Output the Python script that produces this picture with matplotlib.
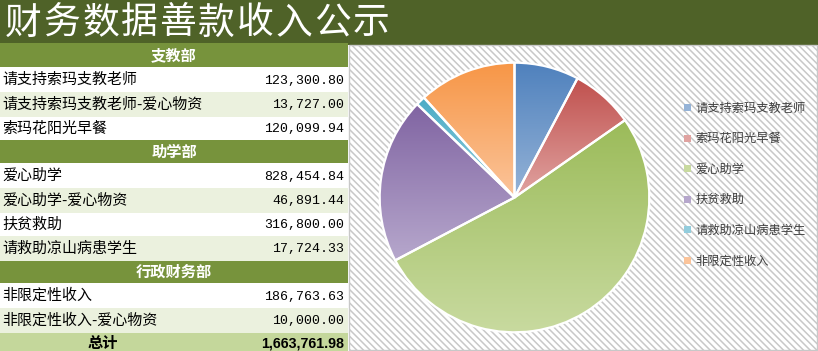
import numpy as np
import matplotlib
matplotlib.use("Agg")
import matplotlib.pyplot as plt
from matplotlib.patches import Rectangle
from matplotlib.colors import to_rgb

plt.rcParams['font.family'] = ['Noto Sans CJK SC', 'DejaVu Sans']
plt.rcParams['hatch.color'] = '#dedede'
plt.rcParams['hatch.linewidth'] = 1.1

# =========================
# DATA
# =========================
title = "财务数据善款收入公示"

# table rows: (kind, label, value)
row_kinds = ["head", "row", "row", "row", "head", "row", "row", "row", "row",
             "head", "row", "row", "total"]
row_labels = ["支教部", "请支持索玛支教老师", "请支持索玛支教老师-爱心物资", "索玛花阳光早餐",
              "助学部", "爱心助学", "爱心助学-爱心物资", "扶贫救助", "请救助凉山病患学生",
              "行政财务部", "非限定性收入", "非限定性收入-爱心物资", "总计"]
row_values = [None, 123300.80, 13727.00, 120099.94,
              None, 828454.84, 46891.44, 316800.00, 17724.33,
              None, 186763.63, 10000.00, 1663761.98]

pie_labels = ["请支持索玛支教老师", "索玛花阳光早餐", "爱心助学", "扶贫救助",
              "请救助凉山病患学生", "非限定性收入"]
pie_values = [123300.80, 120099.94, 828454.84, 316800.00, 17724.33, 186763.63]
pie_top = ["#4f81bd", "#c0504d", "#9bbb59", "#8064a2", "#4bacc6", "#f79646"]
pie_bottom = ["#95b3d7", "#e0a3a1", "#c8da9f", "#b6a7cc", "#93cddd", "#fbc49a"]

# =========================
# LAYOUT (pixels)
# =========================
W, H = 818, 351
row_edges = [43, 67, 92, 117, 140, 163, 188, 213, 236, 261, 283, 308, 333, 351]
TABLE_W = 348

fig = plt.figure(figsize=(W / 100, H / 100), dpi=100)
bg = fig.add_axes([0, 0, 1, 1])
bg.set_xlim(0, W)
bg.set_ylim(H, 0)
bg.axis("off")

# title bar
bg.add_patch(Rectangle((0, 0), W, 45, facecolor="#4f6228", edgecolor="none"))
for k, ch in enumerate(title):
    bg.text(5 + k * 38.6, 23, ch, color="white", fontsize=26.5, va="center", ha="left")

# chart area with diagonal hatch
bg.add_patch(Rectangle((349, 45), 467.5, 305, facecolor="white",
                       edgecolor="#c8c8c8", linewidth=1, hatch="\\\\\\\\\\"))

# =========================
# TABLE
# =========================
light = True
for i, (kind, lab, val) in enumerate(zip(row_kinds, row_labels, row_values)):
    y0, y1 = row_edges[i], row_edges[i + 1]
    yc = (y0 + y1) / 2
    if kind == "head":
        bg.add_patch(Rectangle((0, y0), TABLE_W, y1 - y0, facecolor="#77933c", edgecolor="none"))
        bg.text(TABLE_W / 2, yc, lab, color="white", fontsize=11, fontweight="bold",
                ha="center", va="center")
        light = True
    elif kind == "total":
        bg.add_patch(Rectangle((0, y0), TABLE_W, 20, facecolor="#c4d79b", edgecolor="none"))
        bg.text(103, y0 + 10, lab, color="black", fontsize=11, fontweight="bold",
                ha="center", va="center")
        bg.text(344, y0 + 10, f"{val:,.2f}", color="black", fontsize=10.3, fontweight="bold",
                family="Liberation Sans", ha="right", va="center")
    else:
        light = not light
        fc = "#ebf1de" if light else "white"
        bg.add_patch(Rectangle((0, y0), TABLE_W, y1 - y0, facecolor=fc, edgecolor="none"))
        bg.text(2, yc, lab, color="black", fontsize=10.8, ha="left", va="center")
        bg.text(344, yc + 1, f"{val:,.2f}", color="black", fontsize=9.5,
                family="Liberation Mono", ha="right", va="center")

# =========================
# PIE
# =========================
cx, cy, r = 514.5, 197.5, 137.5
pax = fig.add_axes([(cx - r) / W, 1 - (cy + r) / H, 2 * r / W, 2 * r / H])
wedges, _ = pax.pie(pie_values, startangle=90, counterclock=False, radius=1,
                    colors=pie_top, wedgeprops=dict(edgecolor="white", linewidth=1.6))
for w, c1, c2 in zip(wedges, pie_top, pie_bottom):
    ext = w.get_path().get_extents()
    t = np.linspace(0, 1, 128)[:, None, None]
    grad = (1 - t) * np.array(to_rgb(c1)) + t * np.array(to_rgb(c2))
    im = pax.imshow(grad, extent=(ext.x0, ext.x1, ext.y0, ext.y1), origin="upper",
                    aspect="auto", zorder=1, interpolation="bilinear")
    im.set_clip_path(w)
    w.set_facecolor("none")
    w.set_zorder(3)
pax.set_xlim(-1.02, 1.02)
pax.set_ylim(-1.02, 1.02)
pax.set_aspect("equal")
pax.axis("off")

# =========================
# LEGEND
# =========================
for i, (lab, c1, c2) in enumerate(zip(pie_labels, pie_top, pie_bottom)):
    ly = 108 + i * 30.6
    bg.add_patch(Rectangle((684, ly - 4), 7, 7, facecolor=c2, edgecolor="none"))
    bg.text(695, ly, lab, color="#404040", fontsize=8.8, ha="left", va="center")

fig.savefig("out.png", dpi=100)
